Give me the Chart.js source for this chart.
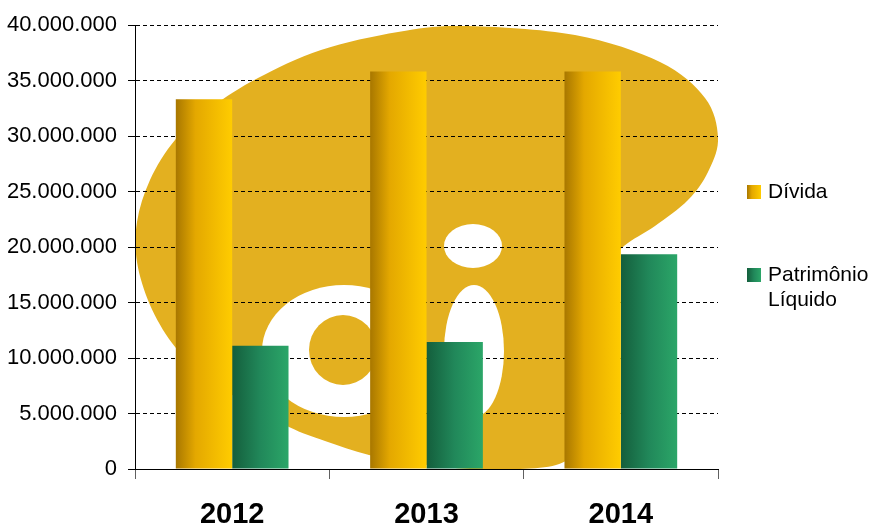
<!DOCTYPE html>
<html>
<head>
<meta charset="utf-8">
<script src="https://cdn.jsdelivr.net/npm/chart.js@4"></script>
<style>
    html, body { margin: 0; padding: 0; background: #fff; }
    #wrap { width: 870px; height: 526px; position: relative; }
</style>
</head>
<body>
<div id="wrap"><canvas id="debtChart"></canvas></div>
<script>
const years = ['2012', '2013', '2014'];
const divida = [33300000, 35800000, 35800000];
const patrimonio = [11100000, 11450000, 19350000];
const seriesNames = ['Dívida', ['Patrimônio', 'Líquido']];
const yMax = 40000000;
const yStep = 5000000;

const catPct = 0.58;
const gold = [[0, '#a87700'], [0.35, '#e4a800'], [1, '#ffcc00']];
const green = [[0, '#145e3c'], [0.5, '#21885a'], [1, '#2ba668']];
const FONT = '"Liberation Sans", Arial, sans-serif';

function makeGradient(c, x0, x1, stops) {
    const g = c.createLinearGradient(x0, 0, x1, 0);
    stops.forEach(s => g.addColorStop(s[0], s[1]));
    return g;
}

// horizontal gradient on each bar, worked out from the category scale
function barFill(stops) {
    return function (ctx) {
        const chart = ctx.chart;
        const xs = chart.scales.x;
        if (!chart.chartArea || !xs || ctx.dataIndex === undefined) return stops[1][1];
        const center = xs.getPixelForValue(ctx.dataIndex);
        const group = (xs.width / years.length) * catPct;
        const barW = group / 2;
        const left = center - group / 2 + ctx.datasetIndex * barW;
        return makeGradient(chart.ctx, left, left + barW, stops);
    };
}

// background "oi" logo, outline traced in reference pixels and mapped onto the chart area
const logoOutline = [
    [463, 26], [575, 35], [660, 62], [705, 98], [718, 138], [708, 172], [688, 200],
    [655, 226], [624, 246], [606, 268], [594, 310], [588, 370], [584, 425], [575, 452],
    [556, 465], [520, 469], [470, 469], [420, 464], [369, 455], [325, 441], [289, 427],
    [240, 400], [200, 372], [172, 343], [150, 305], [137, 262], [137, 222], [150, 180],
    [175, 140], [212, 107], [258, 78], [321, 50], [398, 32]
];

const logoPlugin = {
    id: 'logo',
    beforeDraw(chart) {
        const a = chart.chartArea;
        const c = chart.ctx;
        const sx = a.width / 583, sy = a.height / 444;
        const m = p => [a.left + (p[0] - 135) * sx, a.top + (p[1] - 25) * sy];
        const pts = logoOutline.map(m);
        const n = pts.length;
        c.save();
        c.beginPath();
        c.rect(a.left, a.top, a.width, a.height);
        c.clip();
        c.fillStyle = '#e3b020';
        c.beginPath();
        c.moveTo(pts[0][0], pts[0][1]);
        for (let i = 0; i < n; i++) {
            const p0 = pts[(i - 1 + n) % n], p1 = pts[i], p2 = pts[(i + 1) % n], p3 = pts[(i + 2) % n];
            c.bezierCurveTo(
                p1[0] + (p2[0] - p0[0]) / 6, p1[1] + (p2[1] - p0[1]) / 6,
                p2[0] - (p3[0] - p1[0]) / 6, p2[1] - (p3[1] - p1[1]) / 6,
                p2[0], p2[1]
            );
        }
        c.closePath();
        c.fill();

        const ell = (cx, cy, rx, ry, col) => {
            const p = m([cx, cy]);
            c.fillStyle = col;
            c.beginPath();
            c.ellipse(p[0], p[1], rx * sx, ry * sy, 0, 0, Math.PI * 2);
            c.fill();
        };
        ell(344, 351, 82, 66, '#ffffff');
        ell(343, 350, 34, 35, '#e3b020');
        ell(473, 246, 29, 22, '#ffffff');
        ell(474, 351, 30, 66, '#ffffff');
        c.restore();
    }
};

const legendPlugin = {
    id: 'sideLegend',
    afterDraw(chart) {
        const c = chart.ctx;
        const a = chart.chartArea;
        const x = a.right + 29;
        const rows = [
            { y: 192, stops: gold, text: seriesNames[0] },
            { y: 275, stops: green, text: seriesNames[1] }
        ];
        c.save();
        c.font = '21px ' + FONT;
        c.textBaseline = 'middle';
        rows.forEach(r => {
            c.fillStyle = makeGradient(c, x, x + 14, r.stops);
            c.fillRect(x, r.y - 7, 14, 14);
            c.fillStyle = '#000';
            const lines = Array.isArray(r.text) ? r.text : [r.text];
            lines.forEach((t, i) => c.fillText(t, x + 21, r.y + i * 25));
        });
        c.restore();
    }
};

new Chart(document.getElementById('debtChart'), {
    type: 'bar',
    data: {
        labels: years,
        datasets: [
            {
                label: 'Dívida',
                data: divida,
                backgroundColor: barFill(gold),
                borderWidth: 0,
                categoryPercentage: catPct,
                barPercentage: 1
            },
            {
                label: 'Patrimônio Líquido',
                data: patrimonio,
                backgroundColor: barFill(green),
                borderWidth: 0,
                categoryPercentage: catPct,
                barPercentage: 1
            }
        ]
    },
    options: {
        responsive: true,
        maintainAspectRatio: false,
        animation: false,
        layout: { padding: { top: 25, right: 152, left: 0, bottom: 0 } },
        plugins: {
            legend: { display: false },
            tooltip: { enabled: false }
        },
        scales: {
            y: {
                min: 0,
                max: yMax,
                afterFit: s => { s.width = 135; },
                ticks: {
                    stepSize: yStep,
                    color: '#000',
                    padding: 11,
                    font: { family: FONT, size: 22 },
                    callback: v => String(v).replace(/\B(?=(\d{3})+(?!\d))/g, '.')
                },
                grid: {
                    color: '#000',
                    lineWidth: 1,
                    tickLength: 7,
                    tickColor: '#000'
                },
                border: { display: true, color: '#000', width: 1, dash: [4, 3] }
            },
            x: {
                afterFit: s => { s.height = 57; },
                ticks: {
                    color: '#000',
                    padding: 19,
                    font: { family: FONT, size: 29, weight: 'bold' }
                },
                grid: {
                    offset: true,
                    drawOnChartArea: false,
                    tickLength: 10,
                    tickColor: '#606060'
                },
                border: { display: true, color: '#000', width: 1 }
            }
        }
    },
    plugins: [logoPlugin, legendPlugin]
});
</script>
</body>
</html>
